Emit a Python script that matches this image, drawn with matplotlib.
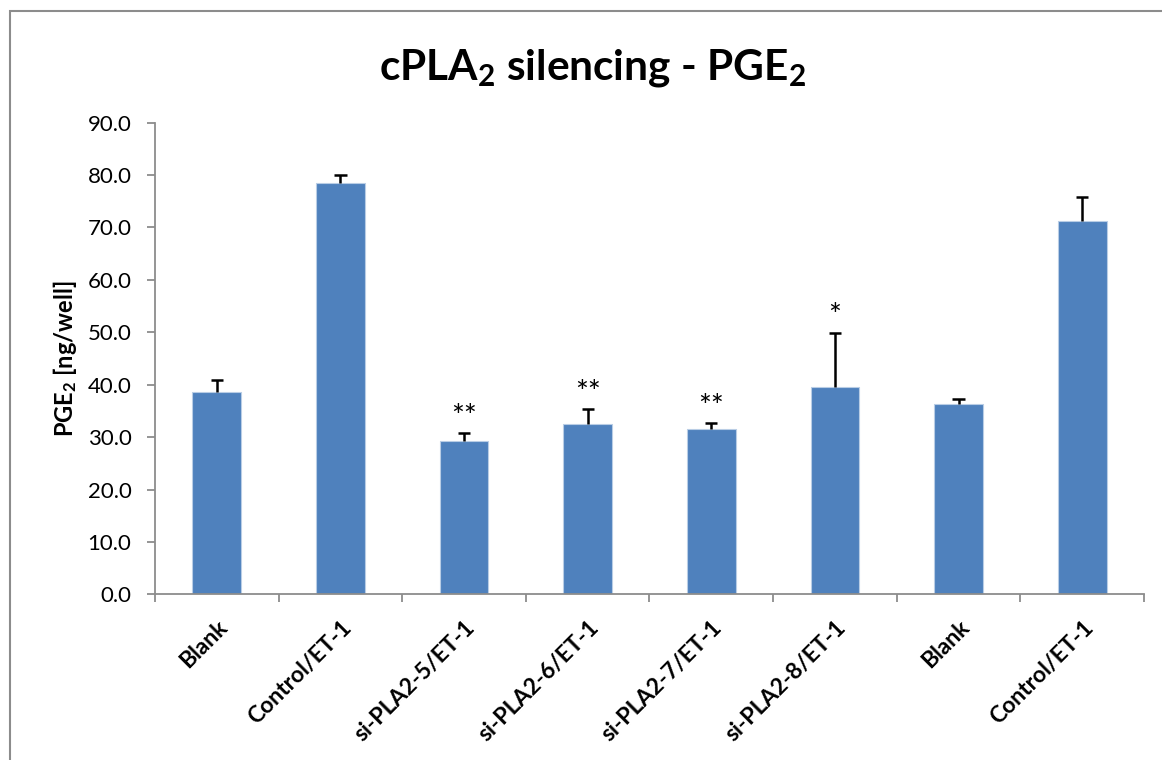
import matplotlib.pyplot as plt
from matplotlib.patches import Rectangle
from matplotlib.transforms import ScaledTranslation

plt.rcParams['font.family'] = ['Lato', 'DejaVu Sans']
plt.rcParams['mathtext.default'] = 'regular'

groups = ['Blank', 'Control/ET-1', 'si-PLA2-5/ET-1', 'si-PLA2-6/ET-1',
          'si-PLA2-7/ET-1', 'si-PLA2-8/ET-1', 'Blank', 'Control/ET-1']
pge2 = [38.6, 78.4, 29.3, 32.5, 31.6, 39.5, 36.4, 71.3]
sd = [2.3, 1.7, 1.4, 2.8, 1.0, 10.4, 0.9, 4.6]
signif = ['', '', '**', '**', '**', '*', '', '']

fig = plt.figure(figsize=(11.62, 7.6), dpi=100)
ax = fig.add_axes([0.1334, 0.218, 0.8511, 0.6206])

x = list(range(len(groups)))
ax.bar(x, pge2, width=0.395, color='#4f81bd', edgecolor='#b9cde5', linewidth=0.8, zorder=2)

# upper error bars only, no cap at the bar top
tops = [v + e for v, e in zip(pge2, sd)]
ax.vlines(x, pge2, tops, color='black', linewidth=1.8, zorder=3)
ax.hlines(tops, [i - 0.05 for i in x], [i + 0.05 for i in x], color='black',
          linewidth=1.8, zorder=3)

for i, (t, s) in enumerate(zip(tops, signif)):
    if s:
        ax.annotate(s, (i, t), xytext=(0, 2), textcoords='offset points',
                    ha='center', va='bottom', fontsize=22)

ax.set_xlim(-0.5, len(groups) - 0.5)
ax.set_ylim(0, 90)
ax.set_yticks(range(0, 91, 10))
ax.set_yticklabels([f'{t:.1f}' for t in range(0, 91, 10)], fontsize=16)
ax.set_xticks(x)
ax.set_xticklabels(groups, rotation=45, ha='right', rotation_mode='anchor',
                   fontsize=16.5, fontweight='bold')
shift = ScaledTranslation(5 / 72, 0, fig.dpi_scale_trans)
for lab in ax.get_xticklabels():
    lab.set_transform(lab.get_transform() + shift)
ax.set_xticks([i - 0.5 for i in range(len(groups) + 1)], minor=True)
ax.tick_params(axis='x', which='major', length=0, pad=16)
ax.tick_params(axis='x', which='minor', length=6, width=1.3, color='#8c8c8c')
ax.tick_params(axis='y', length=6, width=1.3, color='#8c8c8c', pad=11)

for side in ['top', 'right']:
    ax.spines[side].set_visible(False)
for side in ['left', 'bottom']:
    ax.spines[side].set_color('#8c8c8c')
    ax.spines[side].set_linewidth(1.3)

ax.set_ylabel('PGE$_2$ [ng/well]', fontsize=17, fontweight='bold', labelpad=6)
fig.text(0.51, 0.91, 'cPLA$_2$ silencing - PGE$_2$', ha='center', va='center',
         fontsize=30.5, fontweight='bold')

# outer chart frame
fig.patches.append(Rectangle((10 / 1162, -0.1), 1.2, (760 - 11) / 760 + 0.1,
                             transform=fig.transFigure, fill=False,
                             edgecolor='#8c8c8c', linewidth=1.5))

fig.savefig('out.png', dpi=100)
